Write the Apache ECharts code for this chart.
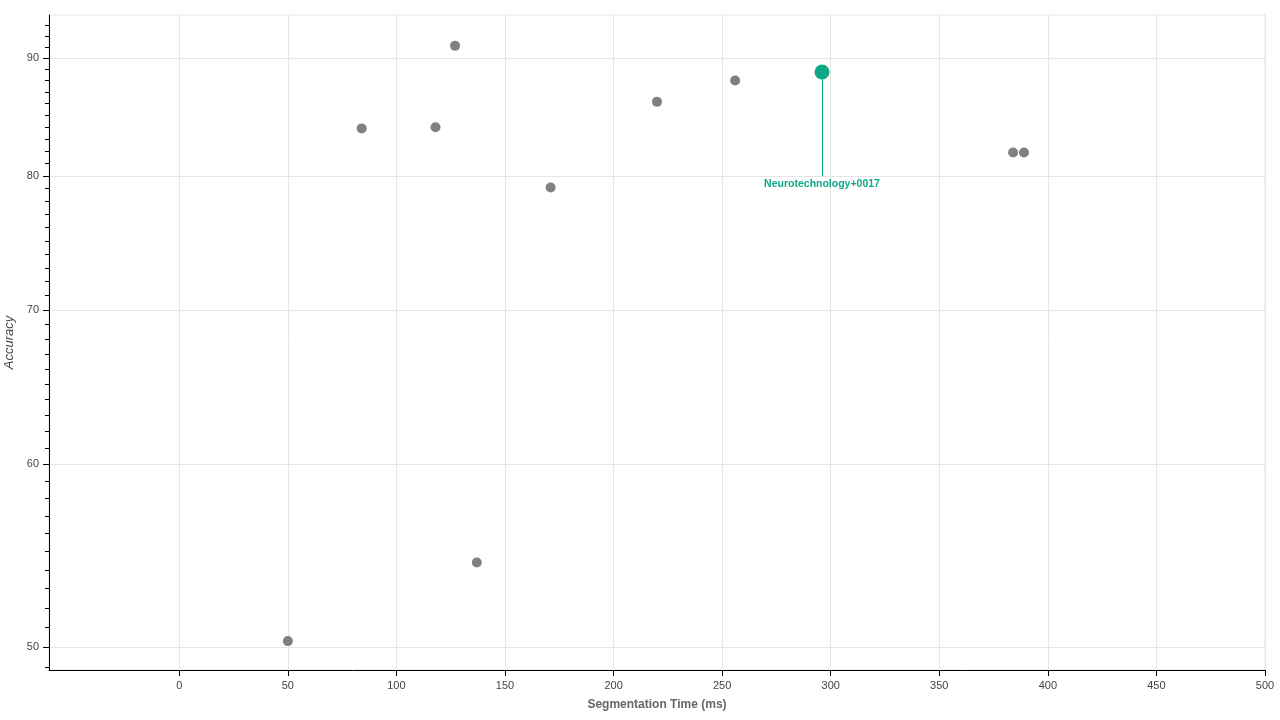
<!DOCTYPE html>
<html>
<head>
<meta charset="utf-8">
<script src="https://cdn.jsdelivr.net/npm/echarts@6/dist/echarts.min.js"></script>
<style>html,body{margin:0;padding:0;background:#fff}#c{width:1280px;height:720px}</style>
</head>
<body>
<div id="c"></div>
<script>
// Data
const times = [50, 84, 118, 127, 137, 171, 220, 256, 384, 389];
const accuracies = [50.3, 83.9, 84.0, 91.1, 54.4, 79.1, 86.15, 88.0, 81.9, 81.9];
const highlightName = 'Neurotechnology+0017';
const highlightTime = 296;
const highlightAccuracy = 88.75;
const highlightLineEnd = 80;
const xTicks = [0, 50, 100, 150, 200, 250, 300, 350, 400, 450, 500];
const yMajorTicks = [50, 60, 70, 80, 90];
const yMinorTicks = [];
for (let v = 49; v <= 93; v++) yMinorTicks.push(v);

const font = 'Liberation Sans, Arial, Helvetica, sans-serif';
const yMin = 48.87, yMax = 93.95;
const teal = '#0fa884';

const chart = echarts.init(document.getElementById('c'));
chart.setOption({
  animation: false,
  backgroundColor: '#fff',
  grid: { left: 49, right: 15, top: 15, bottom: 50, show: true, borderColor: '#e5e5e5', borderWidth: 1,
          containLabel: false, outerBoundsMode: 'none' },
  xAxis: {
    type: 'value', min: -60, max: 500,
    name: 'Segmentation Time (ms)', nameLocation: 'middle', nameGap: 29,
    nameTextStyle: { color: '#666', fontWeight: 'bold', fontSize: 12, fontFamily: font },
    axisLine: { show: true, onZero: false, lineStyle: { color: '#000', width: 1 } },
    axisTick: { show: true, length: 6, lineStyle: { color: '#000' }, customValues: xTicks },
    axisLabel: { color: '#444', fontSize: 11, fontFamily: font, margin: 10, customValues: xTicks },
    splitLine: { show: true, lineStyle: { color: '#e5e5e5', width: 1 } }
  },
  yAxis: [
    {
      type: 'log', min: yMin, max: yMax,
      name: 'Accuracy', nameLocation: 'middle', nameGap: 28, nameRotate: 90,
      nameTextStyle: { color: '#444', fontStyle: 'italic', fontSize: 13, fontFamily: font },
      axisLine: { show: true, onZero: false, lineStyle: { color: '#000', width: 1 } },
      axisTick: { show: true, length: 6, lineStyle: { color: '#000' }, customValues: yMajorTicks },
      axisLabel: { color: '#444', fontSize: 11, fontFamily: font, margin: 10, customValues: yMajorTicks },
      splitLine: { show: true, lineStyle: { color: '#e5e5e5', width: 1 } }
    },
    {
      type: 'log', min: yMin, max: yMax, position: 'left',
      axisLine: { show: false, onZero: false },
      axisTick: { show: true, length: 4, lineStyle: { color: '#000' }, customValues: yMinorTicks },
      axisLabel: { show: false },
      splitLine: { show: false }
    }
  ],
  series: [
    {
      type: 'scatter', yAxisIndex: 0,
      data: times.map((t, i) => [t, accuracies[i]]),
      symbolSize: 10,
      itemStyle: { color: '#808080', opacity: 1 }
    },
    {
      type: 'scatter', yAxisIndex: 0, z: 5,
      name: highlightName,
      data: [[highlightTime, highlightAccuracy]],
      symbolSize: 15,
      itemStyle: { color: teal, opacity: 1 },
      markLine: {
        silent: true, symbol: 'none', animation: false,
        lineStyle: { color: teal, width: 1, type: 'solid', opacity: 1 },
        label: {
          show: true, position: 'end', distance: 3, formatter: highlightName,
          color: teal, fontWeight: 'bold', fontSize: 10.5, fontFamily: font
        },
        data: [[
          { coord: [highlightTime, highlightAccuracy], lineStyle: { color: teal, width: 1, type: 'solid' } },
          { coord: [highlightTime, highlightLineEnd] }
        ]]
      }
    }
  ]
});
</script>
</body>
</html>
